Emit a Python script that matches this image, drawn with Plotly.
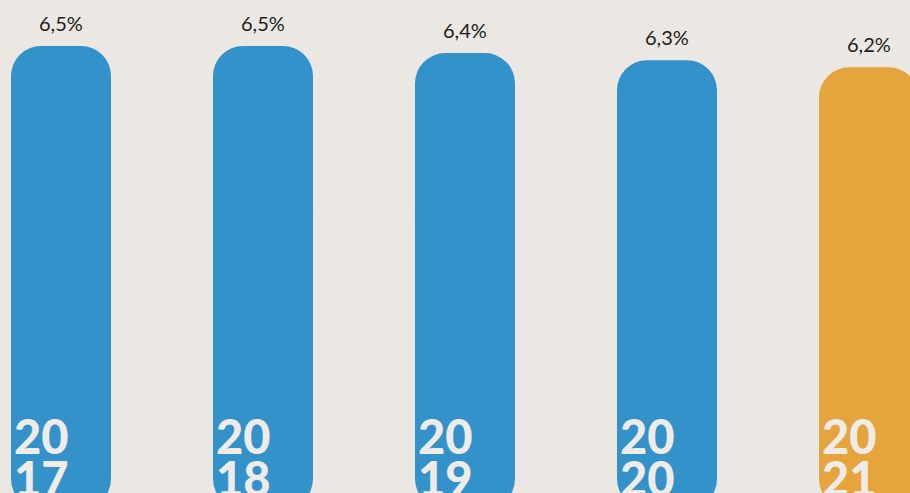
import plotly.graph_objects as go

# data
years = ["2017", "2018", "2019", "2020", "2021"]
year_top = ["20", "20", "20", "20", "20"]
year_bottom = ["17", "18", "19", "20", "21"]
values = [6.5, 6.5, 6.4, 6.3, 6.2]
labels = ["6,5%", "6,5%", "6,4%", "6,3%", "6,2%"]
colors = ["#3392ca", "#3392ca", "#3392ca", "#3392ca", "#e6a43d"]

BG = "#ebe8e3"

fig = go.Figure()

# pill shaped bars: upper part rounded at the top, lower part rounded at the bottom
fig.add_trace(go.Bar(
    x=years, y=[v * 0.7 for v in values], base=[v * 0.3 for v in values],
    width=100 / 202, opacity=1,
    marker=dict(color=colors, cornerradius=30, opacity=1, line=dict(width=0)),
    hoverinfo="skip", showlegend=False,
))
fig.add_trace(go.Bar(
    x=years, y=[-v * 0.7 for v in values], base=[v * 0.7 for v in values],
    width=100 / 202, opacity=1,
    marker=dict(color=colors, cornerradius=30, opacity=1, line=dict(width=0)),
    hoverinfo="skip", showlegend=False,
))

annotations = []
for i, (v, lab, top, bot) in enumerate(zip(values, labels, year_top, year_bottom)):
    annotations.append(dict(
        x=i, y=v, xref="x", yref="y", text=lab, showarrow=False,
        yanchor="bottom", yshift=9,
        font=dict(family="Lato", size=20, color="#1c1c1c"),
    ))
    annotations.append(dict(
        x=i, y=1 - 436 / 493, xref="x", yref="paper", text=top, showarrow=False,
        xanchor="left", xshift=-49, yanchor="middle",
        font=dict(family="Lato", size=47, color="#efebe6", weight=900),
    ))
    annotations.append(dict(
        x=i, y=1 - 478 / 493, xref="x", yref="paper", text=bot, showarrow=False,
        xanchor="left", xshift=-49, yanchor="middle",
        font=dict(family="Lato", size=47, color="#efebe6", weight=900),
    ))

fig.update_layout(
    width=910, height=493,
    margin=dict(l=0, r=0, t=0, b=0),
    paper_bgcolor=BG, plot_bgcolor=BG,
    barmode="overlay",
    annotations=annotations,
)
fig.update_xaxes(type="category", range=[-61 / 202, 849 / 202], visible=False, fixedrange=True)
fig.update_yaxes(range=[0.222, 7.146], visible=False, fixedrange=True)

fig.write_html("out.html", config={"displayModeBar": False},
               post_script="document.body.style.margin='0';document.body.style.background='" + BG + "';")
